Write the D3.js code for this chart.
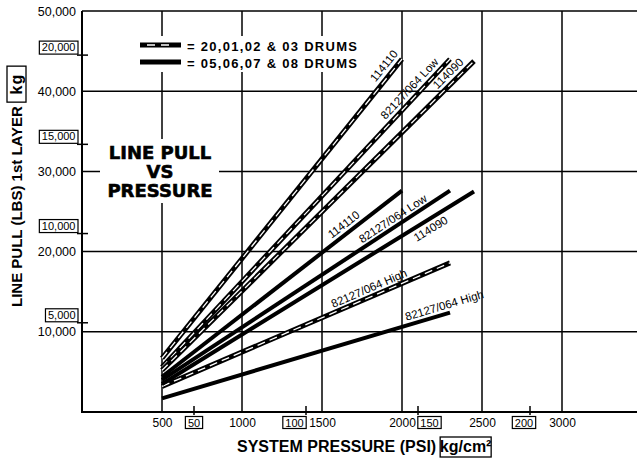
<!DOCTYPE html>
<html>
<head>
<meta charset="utf-8">
<script src="https://cdn.jsdelivr.net/npm/d3@7"></script>
<style>
  body { margin: 0; background: #fff; }
  svg { display: block; }
  text { font-family: "Liberation Sans", Arial, sans-serif; fill: #000; }
</style>
</head>
<body>
<svg width="637" height="460"></svg>
<script>
// --- data ---
const psiTicks = [500, 1000, 1500, 2000, 2500, 3000];
const lbsTicks = [10000, 20000, 30000, 40000, 50000];
const kgTicks = [5000, 10000, 15000, 20000];
const kgcmTicks = [50, 100, 150, 200];

const models = ["114110", "82127/064 Low", "114090", "82127/064 High"];
const psiStart = [500, 500, 500, 500];
const psiEnd = [2000, 2300, 2450, 2300];
// 20,01,02 & 03 drums (dashed)
const pullStartA = [6700, 5600, 5200, 3200];
const pullEndA = [44000, 44000, 43750, 18600];
// 05,06,07 & 08 drums (solid)
const pullStartB = [4400, 4000, 3500, 1700];
const pullEndB = [27600, 27600, 27500, 12400];

const legendText = ["= 20,01,02 & 03  DRUMS", "= 05,06,07 & 08  DRUMS"];
const titleLines = ["LINE PULL", "VS", "PRESSURE"];

// where each line label sits (psi along the line) and which side
const labelPsiA = [1935, 2090, 2330, 1815];
const labelDyA = [-6, -5.5, -5.5, -4.5];
const labelPsiB = [1670, 1970, 2150, 2280];
const labelDyB = [-5, -4, 13, -4.5];

const kgToLbs = 2.225;     // as printed on the chart
const psiPerKgcm = 14.0;
const kgcmNudge = [0, -11.5, 11.5, -6];

const svg = d3.select("svg");
const W = 637;

const x = d3.scaleLinear().domain([0, 3000]).range([82, 562]);
const y = d3.scaleLinear().domain([0, 50000]).range([412, 11]);

// grid
const grid = svg.append("g").attr("stroke", "#000");
grid.selectAll(".v").data(psiTicks).enter().append("line")
  .attr("x1", d => x(d)).attr("x2", d => x(d))
  .attr("y1", y(50000)).attr("y2", y(0))
  .attr("stroke-width", 1.5);
grid.selectAll(".h").data(lbsTicks).enter().append("line")
  .attr("x1", x(0)).attr("x2", W)
  .attr("y1", d => y(d)).attr("y2", d => y(d))
  .attr("stroke-width", 1.5);

// axis lines
svg.append("line").attr("x1", x(0)).attr("x2", x(0)).attr("y1", y(50000)).attr("y2", y(0) + 1)
  .attr("stroke", "#000").attr("stroke-width", 2);
svg.append("line").attr("x1", x(0) - 1).attr("x2", W).attr("y1", y(0)).attr("y2", y(0))
  .attr("stroke", "#000").attr("stroke-width", 2);

// lbs labels
const yAxis = svg.append("g").attr("transform", `translate(${x(0)},0)`)
  .call(d3.axisLeft(y).tickValues(lbsTicks).tickFormat(d3.format(",")).tickSize(0).tickPadding(6));
yAxis.select(".domain").remove();
yAxis.selectAll("text").attr("font-size", 12.5).style("font-family", '"Liberation Sans", Arial, sans-serif');

// psi labels
const xAxis = svg.append("g").attr("transform", `translate(0,${y(0)})`)
  .call(d3.axisBottom(x).tickValues(psiTicks).tickFormat(d3.format("d")).tickSize(0).tickPadding(6));
xAxis.select(".domain").remove();
xAxis.selectAll("text").attr("font-size", 12).style("font-family", '"Liberation Sans", Arial, sans-serif');

// boxed label helper: rect drawn first, sized after the text is measured
function boxLabel(cx, baseY, anchor, str, boxTop, boxH) {
  const g = svg.append("g");
  const r = g.append("rect").attr("fill", "#fff").attr("stroke", "#000").attr("stroke-width", 1.2);
  const t = g.append("text").attr("x", cx).attr("y", baseY)
    .attr("text-anchor", anchor).attr("font-size", 11).text(str);
  const w = t.node().getComputedTextLength();
  const left = anchor === "end" ? cx - w : cx - w / 2;
  r.attr("x", left - 2.5).attr("y", boxTop).attr("width", w + 5).attr("height", boxH);
}

// kg boxes on y axis
kgTicks.forEach(kg => {
  const yy = y(kg * kgToLbs);
  svg.append("line").attr("x1", 77).attr("x2", 88).attr("y1", yy).attr("y2", yy)
    .attr("stroke", "#000").attr("stroke-width", 1.5);
  boxLabel(75.5, yy - 4, "end", d3.format(",")(kg), yy - 14, 13);
});

// kg/cm2 boxes on x axis
kgcmTicks.forEach((v, i) => {
  const xx = x(v * psiPerKgcm);
  svg.append("line").attr("x1", xx).attr("x2", xx).attr("y1", 406).attr("y2", 415)
    .attr("stroke", "#000").attr("stroke-width", 1.5);
  boxLabel(xx + kgcmNudge[i], 426.5, "middle", String(v), 416.5, 12);
});

// white patches under legend and title
svg.append("rect").attr("x", 133).attr("y", 36).attr("width", 232).attr("height", 36).attr("fill", "#fff");
svg.append("rect").attr("x", 100).attr("y", 139).attr("width", 119).attr("height", 64).attr("fill", "#fff");

// pull lines
function drawSet(starts, ends, dashed, labelPsi, labelDy) {
  models.forEach((m, i) => {
    const x1 = x(psiStart[i]), y1 = y(starts[i]);
    const x2 = x(psiEnd[i]), y2 = y(ends[i]);
    svg.append("line").attr("x1", x1).attr("y1", y1).attr("x2", x2).attr("y2", y2)
      .attr("stroke", "#000").attr("stroke-width", dashed ? 5 : 4);
    if (dashed) {
      svg.append("line").attr("x1", x1).attr("y1", y1).attr("x2", x2).attr("y2", y2)
        .attr("stroke", "#fff").attr("stroke-width", 1.3).attr("stroke-dasharray", "8,5");
    }
    const slope = (ends[i] - starts[i]) / (psiEnd[i] - psiStart[i]);
    const p = labelPsi[i];
    const lx = x(p), ly = y(starts[i] + slope * (p - psiStart[i]));
    const ang = Math.atan2(y2 - y1, x2 - x1) * 180 / Math.PI;
    svg.append("text")
      .attr("transform", `translate(${lx},${ly}) rotate(${ang})`)
      .attr("dy", labelDy[i])
      .attr("text-anchor", "middle").attr("font-size", 11.5)
      .text(m);
  });
}
drawSet(pullStartA, pullEndA, true, labelPsiA, labelDyA);
drawSet(pullStartB, pullEndB, false, labelPsiB, labelDyB);

// legend
const lg = svg.append("g");
[45, 62].forEach((ly, i) => {
  lg.append("line").attr("x1", 140).attr("x2", 181).attr("y1", ly).attr("y2", ly)
    .attr("stroke", "#000").attr("stroke-width", 5);
  if (i === 0) {
    lg.append("line").attr("x1", 140).attr("x2", 181).attr("y1", ly).attr("y2", ly)
      .attr("stroke", "#fff").attr("stroke-width", 1.3).attr("stroke-dasharray", "0,7,8,6,8,12");
  }
  lg.append("text").attr("x", 187).attr("y", ly + 5.5)
    .attr("font-size", 13).attr("font-weight", "bold")
    .attr("textLength", 170).attr("lengthAdjust", "spacing")
    .text(legendText[i]);
});

// title
svg.append("g").selectAll("text").data(titleLines).enter().append("text")
  .attr("x", 160).attr("y", (d, i) => 159 + i * 19)
  .attr("text-anchor", "middle")
  .attr("font-size", 18).attr("font-weight", "bold")
  .style("font-family", '"DejaVu Sans", sans-serif')
  .attr("stroke", "#000").attr("stroke-width", 0.6)
  .text(d => d);

// y title
const yt = svg.append("g").attr("transform", "translate(22,307) rotate(-90)");
const ytxt = yt.append("text").attr("x", 0).attr("y", 0)
  .attr("font-size", 15).attr("font-weight", "bold")
  .text("LINE PULL (LBS) 1st LAYER");
const ylen = ytxt.node().getComputedTextLength();
yt.append("rect").attr("x", ylen + 4).attr("y", -15).attr("width", 36).attr("height", 19)
  .attr("fill", "none").attr("stroke", "#000").attr("stroke-width", 1.3);
yt.append("text").attr("x", ylen + 22).attr("y", 0).attr("text-anchor", "middle")
  .attr("font-size", 16).attr("font-weight", "bold").attr("letter-spacing", 1).text("kg");

// x title
const xt = svg.append("text").attr("x", 237).attr("y", 452)
  .attr("font-size", 16).attr("font-weight", "bold")
  .text("SYSTEM PRESSURE (PSI)");
const xlen = xt.node().getComputedTextLength();
svg.append("rect").attr("x", 237 + xlen + 4).attr("y", 437).attr("width", 51).attr("height", 20)
  .attr("fill", "none").attr("stroke", "#000").attr("stroke-width", 1.3);
svg.append("text").attr("x", 237 + xlen + 29.5).attr("y", 452).attr("text-anchor", "middle")
  .attr("font-size", 16).attr("font-weight", "bold").text("kg/cm²");
</script>
</body>
</html>
